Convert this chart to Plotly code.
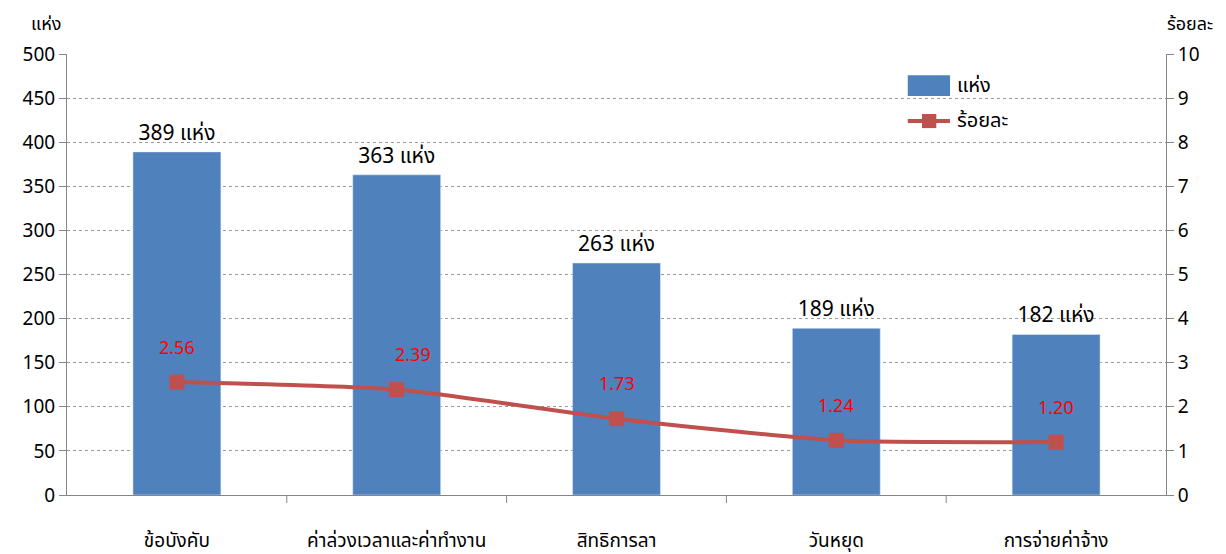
import plotly.graph_objects as go

categories = ["ข้อบังคับ", "ค่าล่วงเวลาและค่าทำงาน", "สิทธิการลา", "วันหยุด", "การจ่ายค่าจ้าง"]
counts = [389, 363, 263, 189, 182]
percents = [2.56, 2.39, 1.73, 1.24, 1.20]
count_labels = [f"{v} แห่ง" for v in counts]
percent_labels = ["2.56", "2.39", "1.73", "1.24", "1.20"]
y1_ticks = list(range(0, 501, 50))
y2_ticks = list(range(0, 11))

FONT = "Noto Sans Thai, Tahoma, Leelawadee UI, DejaVu Sans, sans-serif"
BLUE = "#4F81BD"
RED = "#C0504D"

fig = go.Figure()
fig.add_trace(go.Bar(
    x=categories, y=counts, name="แห่ง", marker_color=BLUE,
    width=0.4, text=count_labels, textposition="outside",
    textfont=dict(size=21, color="#000000"), cliponaxis=False, showlegend=False,
))
fig.add_trace(go.Scatter(
    x=categories, y=percents, name="ร้อยละ", yaxis="y2",
    mode="lines+markers", line=dict(color=RED, width=4, shape="spline", smoothing=0.6),
    marker=dict(symbol="square", size=15, color=RED), showlegend=False,
))

for i, (c, p, t) in enumerate(zip(categories, percents, percent_labels)):
    fig.add_annotation(x=c, y=p, yref="y2", text=t, showarrow=False,
                       yshift=34, xshift=(16 if i == 1 else 0),
                       font=dict(size=18, color="#FF0000", family=FONT))

fig.update_layout(
    width=1226, height=554,
    margin=dict(l=59, r=68, t=46, b=67),
    plot_bgcolor="white", paper_bgcolor="white",
    font=dict(family=FONT, size=18, color="#000000"),
    showlegend=False,
    bargap=0.6,
    xaxis=dict(showline=True, linecolor="#868686", linewidth=1, ticks="",
               tickfont=dict(size=19), showgrid=False, automargin=False,
               ticklabelstandoff=28),
    yaxis=dict(range=[0, 500], tickvals=y1_ticks, showline=True, linecolor="#868686",
               ticks="outside", ticklen=7, tickcolor="#868686", showgrid=True,
               gridcolor="#9A9A9A", griddash="dot", gridwidth=1, tickfont=dict(size=19),
               zeroline=False, automargin=False),
    yaxis2=dict(range=[0, 10], tickvals=y2_ticks, overlaying="y", side="right",
                showline=True, linecolor="#868686", ticks="outside", ticklen=7,
                tickcolor="#868686", showgrid=False, tickfont=dict(size=19), zeroline=False,
                automargin=False),
)

# category boundary ticks on x axis
for k in range(1, 5):
    fig.add_shape(type="line", xref="x", yref="paper", x0=k - 0.5, x1=k - 0.5,
                  y0=0, y1=-0.018, line=dict(color="#868686", width=1))

# custom legend
fig.add_shape(type="rect", xref="paper", yref="paper", x0=0.765, x1=0.8035,
              y0=0.905, y1=0.952, fillcolor=BLUE, line=dict(width=0))
fig.add_annotation(xref="paper", yref="paper", x=0.808, y=0.928, text="แห่ง",
                   showarrow=False, xanchor="left", yanchor="middle", font=dict(size=20))
fig.add_shape(type="line", xref="paper", yref="paper", x0=0.765, x1=0.8035,
              y0=0.848, y1=0.848, line=dict(color=RED, width=4))
fig.add_shape(type="rect", xref="paper", yref="paper", x0=0.778, x1=0.791,
              y0=0.832, y1=0.864, fillcolor=RED, line=dict(width=0))
fig.add_annotation(xref="paper", yref="paper", x=0.808, y=0.848, text="ร้อยละ",
                   showarrow=False, xanchor="left", yanchor="middle", font=dict(size=20))

# axis titles
fig.add_annotation(xref="paper", yref="paper", x=-0.004, y=1.068, text="แห่ง",
                   showarrow=False, xanchor="right", yanchor="middle", font=dict(size=18))
fig.add_annotation(xref="paper", yref="paper", x=1.045, y=1.068, text="ร้อยละ",
                   showarrow=False, xanchor="right", yanchor="middle", font=dict(size=18))

fig.write_html("out.html")
